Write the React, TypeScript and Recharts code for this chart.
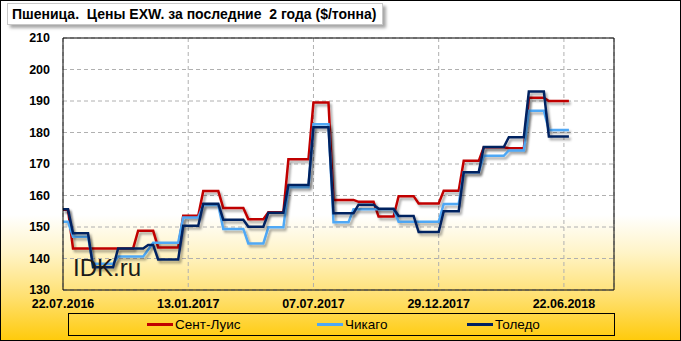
import React from 'react';
import { LineChart, Line, XAxis, YAxis, CartesianGrid, ReferenceLine } from 'recharts';

// weekly prices, $/t, starting 22.07.2016
const stLouis = [
  155.5, 155.5,
  143.2, 143.2, 143.2, 143.2, 143.2, 143.2, 143.2, 143.2, 143.2, 143.2, 143.2, 143.2, 143.2,
  148.8, 148.8, 148.8, 148.8,
  143.5, 143.5, 143.5, 143.5, 143.5,
  153.6, 153.6, 153.6, 153.6,
  161.4, 161.4, 161.4, 161.4,
  156, 156, 156, 156, 156,
  152.5, 152.5, 152.5, 152.5,
  154.7, 154.7, 154.7, 154.7,
  171.5, 171.5, 171.5, 171.5, 171.5,
  189.5, 189.5, 189.5, 189.5,
  158.6, 158.6, 158.6, 158.6, 158.6,
  158, 158, 158, 158,
  153.3, 153.3, 153.3, 153.3,
  159.8, 159.8, 159.8, 159.8,
  157.5, 157.5, 157.5, 157.5, 157.5,
  161.5, 161.5, 161.5, 161.5,
  171, 171, 171, 171,
  175.3, 175.3, 175.3, 175.3, 175.3,
  175, 175, 175, 175,
  191, 191, 191, 191,
  190, 190, 190, 190, 190,
];

const chicago = [
  151.7, 151.7,
  146.9, 146.9, 146.9, 146.9,
  138.3, 138.3, 138.3, 138.3, 138.3,
  140.6, 140.6, 140.6, 140.6, 140.6, 140.6,
  142.8,
  145, 145, 145, 145, 145, 145,
  153, 153, 153, 153,
  157, 157, 157, 157,
  149.4, 149.4, 149.4, 149.4, 149.4,
  144.8, 144.8, 144.8, 144.8,
  149.9, 149.9, 149.9, 149.9,
  162.6, 162.6, 162.6, 162.6, 162.6,
  182.6, 182.6, 182.6, 182.6,
  151.5, 151.5, 151.5, 151.5,
  155.6, 155.6, 155.6, 155.6, 155.6, 155.6, 155.6, 155.6, 155.6,
  151.7, 151.7, 151.7, 151.7, 151.7, 151.7, 151.7, 151.7, 151.7,
  157.3, 157.3, 157.3, 157.3,
  167.4, 167.4, 167.4, 167.4,
  172.6, 172.6, 172.6, 172.6, 172.6,
  174.3, 174.3, 174.3, 174.3,
  186.9, 186.9, 186.9, 186.9,
  180.8, 180.8, 180.8, 180.8, 180.8,
];

const toledo = [
  155.6, 155.6,
  148, 148, 148, 148,
  137.2, 137.2, 137.2, 137.2, 137.2,
  143.2, 143.2, 143.2, 143.2, 143.2, 143.2,
  144.3, 144.3,
  139.7, 139.7, 139.7, 139.7, 139.7,
  150.4, 150.4, 150.4, 150.4,
  157.4, 157.4, 157.4, 157.4,
  152.3, 152.3, 152.3, 152.3, 152.3,
  150.1, 150.1, 150.1, 150.1,
  154.5, 154.5, 154.5, 154.5,
  163.3, 163.3, 163.3, 163.3, 163.3,
  181.7, 181.7, 181.7, 181.7,
  154.4, 154.4, 154.4, 154.4, 154.4,
  157.1, 157.1, 157.1, 157.1,
  155.8, 155.8, 155.8, 155.8,
  153.5, 153.5, 153.5, 153.5,
  148.4, 148.4, 148.4, 148.4, 148.4,
  155, 155, 155, 155,
  167.4, 167.4, 167.4, 167.4,
  175.4, 175.4, 175.4, 175.4, 175.4,
  178.5, 178.5, 178.5, 178.5,
  193, 193, 193, 193,
  178.7, 178.7, 178.7, 178.7, 178.7,
];

const tickWeeks = [0, 25, 50, 75, 100];
const tickDates = ['22.07.2016', '13.01.2017', '07.07.2017', '29.12.2017', '22.06.2018'];
const yTicks = [130, 140, 150, 160, 170, 180, 190, 200, 210];

const seriesNames = ['Сент-Луис', 'Чикаго', 'Толедо'];
const seriesColors = ['#c00000', '#4fa8f5', '#002060'];

const data = stLouis.map((v, i) => ({
  week: i,
  stLouis: v,
  chicago: chicago[i],
  toledo: toledo[i],
}));

const font = "'Liberation Sans', Arial, sans-serif";
const tickStyle = { fill: '#000', fontSize: 12.5, fontWeight: 700, fontFamily: font };

export default function App() {
  return (
    <div
      style={{
        position: 'absolute',
        left: 0,
        top: 0,
        width: 681,
        height: 341,
        background:
          'linear-gradient(180deg, #ffffff 0%, #ffffff 63%, #fff4c8 74%, #ffe070 87%, #ffca0a 100%)',
        fontFamily: font,
      }}
    >
      <LineChart
        width={681}
        height={341}
        data={data}
        margin={{ top: 38, right: 17, bottom: 21, left: 13 }}
      >
        <defs>
          <filter id="lineShadow" filterUnits="userSpaceOnUse" x="0" y="0" width="681" height="341">
            <feDropShadow dx="2" dy="2.5" stdDeviation="1.3" floodColor="#000" floodOpacity="0.35" />
          </filter>
        </defs>
        <CartesianGrid stroke="#b0b0b0" strokeDasharray="4 3" />
        <XAxis
          dataKey="week"
          type="number"
          domain={[0, 110]}
          ticks={tickWeeks}
          tickFormatter={(w: number) => tickDates[tickWeeks.indexOf(w)]}
          axisLine={{ stroke: '#000' }}
          tickLine={false}
          tickMargin={3}
          height={30}
          tick={tickStyle}
          interval={0}
        />
        <YAxis
          domain={[130, 210]}
          ticks={yTicks}
          axisLine={{ stroke: '#000' }}
          tickLine={false}
          tickMargin={7}
          width={50}
          tick={tickStyle}
          interval={0}
        />
        <YAxis
          yAxisId="r"
          orientation="right"
          domain={[130, 210]}
          ticks={yTicks}
          axisLine={{ stroke: '#000' }}
          tickLine={false}
          tickMargin={5}
          width={50}
          tick={tickStyle}
          interval={0}
        />
        <ReferenceLine y={210} stroke="#000" />
        <Line type="linear" dataKey="stLouis" stroke={seriesColors[0]} strokeWidth={2.5} dot={false} filter="url(#lineShadow)" isAnimationActive={false} />
        <Line type="linear" dataKey="chicago" stroke={seriesColors[1]} strokeWidth={2.5} dot={false} filter="url(#lineShadow)" isAnimationActive={false} />
        <Line type="linear" dataKey="toledo" stroke={seriesColors[2]} strokeWidth={2.5} dot={false} filter="url(#lineShadow)" isAnimationActive={false} />
      </LineChart>

      <div
        style={{
          position: 'absolute',
          left: 73,
          top: 254,
          fontSize: 24,
          color: '#1a1a1a',
          lineHeight: '28px',
        }}
      >
        IDK.ru
      </div>

      <div
        style={{
          position: 'absolute',
          left: 7,
          top: 3,
          width: 376,
          height: 22,
          boxSizing: 'border-box',
          background: '#fff',
          border: '1px solid #c8c8c8',
          boxShadow: '3px 3px 3px rgba(0,0,0,0.35)',
          fontSize: 14,
          fontWeight: 700,
          lineHeight: '20px',
          paddingLeft: 4,
          whiteSpace: 'pre',
          color: '#000',
        }}
      >
        {'Пшеница.  Цены EXW. за последние  2 года ($/тонна)'}
      </div>

      <div
        style={{
          position: 'absolute',
          left: 68,
          top: 313,
          width: 547,
          height: 23,
          boxSizing: 'border-box',
          border: '1px solid #000',
          fontSize: 13.5,
        }}
      >
        {seriesNames.map((name, i) => (
          <div
            key={name}
            style={{
              position: 'absolute',
              left: [78, 248, 398][i],
              top: 0,
              height: 21,
              display: 'flex',
              alignItems: 'center',
              whiteSpace: 'nowrap',
            }}
          >
            <span
              style={{
                display: 'inline-block',
                width: 26,
                height: 2.5,
                background: seriesColors[i],
                marginRight: 2,
              }}
            />
            <span>{name}</span>
          </div>
        ))}
      </div>

      <div
        style={{
          position: 'absolute',
          left: 0,
          top: 0,
          width: 681,
          height: 341,
          boxSizing: 'border-box',
          border: '1px solid #000',
          pointerEvents: 'none',
        }}
      />
    </div>
  );
}
